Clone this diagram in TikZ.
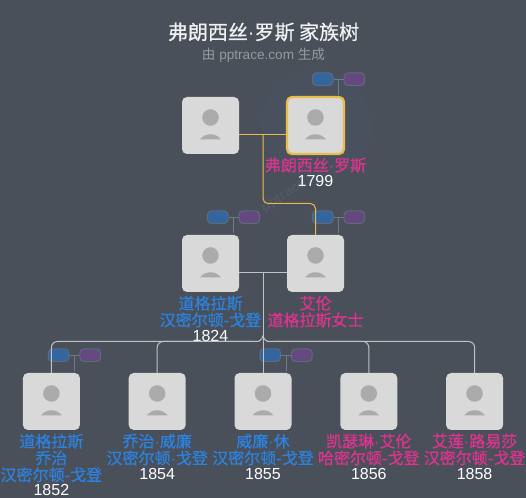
\documentclass[tikz,border=0pt]{standalone}
\usepackage{fontspec}
\setmainfont{Liberation Sans}
\newfontfamily\cjk{Noto Sans CJK SC}
\newfontfamily\cjkbold[FakeBold=0.6]{Noto Sans CJK SC}
\newcommand{\middot}{{\rmfamily ·}}
\usetikzlibrary{backgrounds,calc,fadings,positioning}
\definecolor{pagegray}{HTML}{4A505A}
\definecolor{boxgray}{HTML}{D9D9D9}
\definecolor{avatargray}{HTML}{ABABAB}
\definecolor{namepink}{HTML}{E0338F}
\definecolor{nameblue}{HTML}{2C82E0}
\definecolor{goldline}{HTML}{E9BC45}
\definecolor{tagblue}{HTML}{33669F}
\definecolor{tagpurple}{HTML}{65487F}
\definecolor{tagedge}{HTML}{5F6B7C}
\definecolor{glowblue}{HTML}{3F6FB0}
\tikzset{
  person/.style={rectangle,rounded corners=3.75pt,fill=boxgray,minimum size=42.75pt,inner sep=0pt,outer sep=0pt,
    path picture={
      \fill[avatargray,sharp corners] ($(path picture bounding box.center)+(0,-8)$) circle (6.2pt);
      \fill[avatargray,sharp corners] ($(path picture bounding box.center)+(-10.5,14)$) .. controls +(5,-7) and +(-5,-7) .. ($(path picture bounding box.center)+(10.5,14)$) -- cycle;
    }},
  chosen/.style={person,draw=goldline,line width=1.7pt},
  fullname/.style={text=#1,font=\cjkbold\fontsize{12}{12.6}\selectfont,align=center,inner sep=0pt},
  year/.style={text=white,font=\fontsize{12}{12.6}\selectfont,inner sep=0pt},
  tag/.style={rectangle,rounded corners=3pt,draw=tagedge,fill=#1,line width=.75pt,minimum width=15.5pt,minimum height=9.5pt,inner sep=0pt},
  tagline/.style={draw=tagedge!90!white,line width=.75pt},
  goldlink/.style={draw=goldline,line width=.75pt,rounded corners=3.75pt},
  graylink/.style={draw=white!65!pagegray,line width=.75pt,rounded corners=4.5pt}
}
\begin{document}
\begin{tikzpicture}[x=0.75pt,y=-0.75pt]
\useasboundingbox (0,0) rectangle (526,498);

\node[text=white!92!pagegray,font=\cjkbold\fontsize{15}{18}\selectfont] (title) at (263.5,32) {弗朗西丝\middot 罗斯 家族树};
\node[below=1.2pt of title,text=white!42!pagegray,font=\fontsize{10.2}{12}\selectfont,inner sep=0pt] (subtitle) {{\cjk 由} pptrace.com {\cjk 生成}};
\node[rotate=33,text=white,opacity=.05,font=\bfseries\fontsize{10.5}{12}\selectfont] (mark) at (284,196) {pptrace};

\node[person] (spouse) at (210.5,125.5) {};
\node[chosen,right=36pt of spouse] (frances) {};
\node[person,below=60.75pt of spouse] (douglas) {};
\node[person,right=36pt of douglas] (ellen) {};

\coordinate (topfork) at ($(spouse.east)!.5!(frances.west)+(0,9.5)$);
\coordinate (midfork) at ($(douglas.east)!.5!(ellen.west)+(0,9.5)$);

\node[person,below=60.75pt of $(douglas.south)!.5!(ellen.south)$] (kidc) {};
\node[person,left=36.6pt of kidc] (kidb) {};
\node[person,left=36.6pt of kidb] (kida) {};
\node[person,right=36.6pt of kidc] (kidd) {};
\node[person,right=36.6pt of kidd] (kide) {};

% labels
\node[fullname=namepink,below=2.6pt of frances] (francesname) {弗朗西丝\middot 罗斯};
\node[year,below=1.6pt of francesname] (francesyear) {1799};
\node[fullname=nameblue,below=2.6pt of douglas] (douglasname) {道格拉斯\\汉密尔顿-戈登};
\node[year,below=1.6pt of douglasname] (douglasyear) {1824};
\node[fullname=namepink,below=2.6pt of ellen] (ellenname) {艾伦\\道格拉斯女士};
\node[fullname=nameblue,below=2.6pt of kida] (kidaname) {道格拉斯\\乔治\\汉密尔顿-戈登};
\node[year,below=1.6pt of kidaname] (kidayear) {1852};
\node[fullname=nameblue,below=2.6pt of kidb] (kidbname) {乔治\middot 威廉\\汉密尔顿\middot 戈登};
\node[year,below=1.6pt of kidbname] (kidbyear) {1854};
\node[fullname=nameblue,below=2.6pt of kidc] (kidcname) {威廉\middot 休\\汉密尔顿-戈登};
\node[year,below=1.6pt of kidcname] (kidcyear) {1855};
\node[fullname=namepink,below=2.6pt of kidd] (kiddname) {凯瑟琳\middot 艾伦\\哈密尔顿-戈登};
\node[year,below=1.6pt of kiddname] (kiddyear) {1856};
\node[fullname=namepink,below=2.6pt of kide] (kidename) {艾莲\middot 路易莎\\汉密尔顿-戈登};
\node[year,below=1.6pt of kidename] (kideyear) {1858};

% parent tags
\node[tag=tagblue,above=8.25pt of frances.north,xshift=5.4pt] (francesdad) {};
\node[tag=tagpurple,right=7.5pt of francesdad] (francesmum) {};
\coordinate (francesstem) at ($(francesdad)!.5!(francesmum)+(0,15.5)$);
\draw[tagline] (francesdad) -- (francesmum);
\draw[tagline] ($(francesdad)!.5!(francesmum)$) -- (francesstem);

\node[tag=tagblue,above=8.25pt of douglas.north,xshift=5.4pt] (douglasdad) {};
\node[tag=tagpurple,right=7.5pt of douglasdad] (douglasmum) {};
\coordinate (douglasstem) at ($(douglasdad)!.5!(douglasmum)+(0,15.5)$);
\draw[tagline] (douglasdad) -- (douglasmum);
\draw[tagline] ($(douglasdad)!.5!(douglasmum)$) -- (douglasstem);

\node[tag=tagblue,above=8.25pt of ellen.north,xshift=5.4pt] (ellendad) {};
\node[tag=tagpurple,right=7.5pt of ellendad] (ellenmum) {};
\coordinate (ellenstem) at ($(ellendad)!.5!(ellenmum)+(0,15.5)$);
\draw[tagline] (ellendad) -- (ellenmum);
\draw[tagline] ($(ellendad)!.5!(ellenmum)$) -- (ellenstem);

\node[tag=tagblue,above=8.25pt of kida.north,xshift=5.4pt] (kidadad) {};
\node[tag=tagpurple,right=7.5pt of kidadad] (kidamum) {};
\coordinate (kidastem) at ($(kidadad)!.5!(kidamum)+(0,15.5)$);
\draw[tagline] (kidadad) -- (kidamum);
\draw[tagline] ($(kidadad)!.5!(kidamum)$) -- (kidastem);

\node[tag=tagblue,above=8.25pt of kidc.north,xshift=5.4pt] (kidcdad) {};
\node[tag=tagpurple,right=7.5pt of kidcdad] (kidcmum) {};
\coordinate (kidcstem) at ($(kidcdad)!.5!(kidcmum)+(0,15.5)$);
\draw[tagline] (kidcdad) -- (kidcmum);
\draw[tagline] ($(kidcdad)!.5!(kidcmum)$) -- (kidcstem);

% family links
\coordinate (topbend) at ($(ellen.north)+(0,-31.5)$);
\draw[goldlink] ([yshift=-7.1pt]spouse.east) -- ([yshift=-7.1pt]frances.west);
\draw[goldlink] (topfork) |- (topbend) -- (ellen.north);

\coordinate (brace) at ($(kidc.north)+(0,-37.5)$);
\coordinate (busleft) at ($(kidc.north)+(-10.5,-31.5)$);
\coordinate (busright) at ($(kidc.north)+(10.5,-31.5)$);
\draw[graylink] ([yshift=-7.1pt]douglas.east) -- ([yshift=-7.1pt]ellen.west);
\draw[graylink] (midfork) -- (kidc.north);
\draw[graylink] (brace) .. controls +(0,5) and +(4,0) .. (busleft) -| (kida.north);
\draw[graylink] (busleft) -| (kidb.north);
\draw[graylink] (brace) .. controls +(0,5) and +(-4,0) .. (busright) -| (kidd.north);
\draw[graylink] (busright) -| (kide.north);

\begin{scope}[on background layer]
  \fill[pagegray] (0,0) rectangle (526,498);
  \fill[glowblue,opacity=.06,path fading=circle with fuzzy edge 20 percent] (frances) circle (62);
\end{scope}
\end{tikzpicture}
\end{document}
